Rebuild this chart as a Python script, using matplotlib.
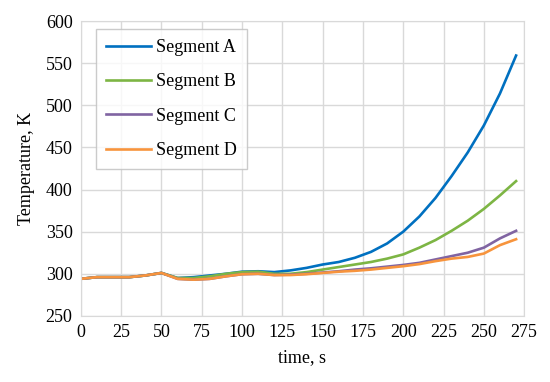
import numpy as np
import matplotlib
matplotlib.use('Agg')
from matplotlib import pyplot as plt

plt.rcParams['font.family'] = ['Liberation Serif', 'DejaVu Serif']

time = [0, 10, 20, 30, 40, 50, 60, 70, 80, 90, 100, 110, 120, 130, 140,
        150, 160, 170, 180, 190, 200, 210, 220, 230, 240, 250, 260, 270]

seg_a = [294, 296, 296, 296, 298, 301, 295, 296, 298, 300, 302.5, 303, 302, 304, 307,
         311, 314, 319, 326, 336, 350, 368, 390, 416, 444, 476, 514, 559]
seg_b = [294, 296, 296, 296, 298, 301, 295, 295, 297, 300, 302, 302.5, 300, 300, 302,
         305, 308, 311, 314, 318, 323, 331, 340, 351, 363, 377, 393, 410]
seg_c = [294, 296, 296, 296, 298, 301, 294, 293, 294, 297, 299.5, 300, 298.5, 299, 300,
         301.5, 303, 305, 306.5, 308.5, 310.5, 313, 317, 321, 325, 331, 342, 351]
seg_d = [294, 296, 296, 296, 298, 301, 294, 293, 294, 297, 299.5, 300, 298.5, 298.5, 299.5,
         301, 302.5, 303.5, 305, 307, 309, 311.5, 315, 318, 320, 324, 334, 341]

names = ['Segment A', 'Segment B', 'Segment C', 'Segment D']
colors = ['#0070C0', '#7DB544', '#8064A2', '#F7943D']

fig = plt.figure(figsize=(5.5, 3.82), dpi=100)
ax = fig.add_axes([0.147, 0.173, 0.806, 0.772])

for y, n, c in zip([seg_a, seg_b, seg_c, seg_d], names, colors):
    ax.plot(time, y, color=c, lw=1.9, label=n)

ax.set_xlim(0, 275)
ax.set_ylim(250, 600)
ax.set_xticks(np.arange(0, 276, 25))
ax.set_yticks(np.arange(250, 601, 50))
ax.grid(True, color='#d9d9d9', lw=1)
ax.set_axisbelow(True)
for s in ax.spines.values():
    s.set_color('#d9d9d9')
ax.tick_params(length=0, labelsize=13, pad=6)
ax.set_xlabel('time, s', fontsize=13, labelpad=6)
ax.set_ylabel('Temperature, K', fontsize=13, labelpad=8)

leg = ax.legend(loc='upper left', bbox_to_anchor=(0.034, 0.973), borderaxespad=0,
                fontsize=13, frameon=True, fancybox=False, edgecolor='#bfbfbf',
                labelspacing=0.96, handlelength=2.5, handletextpad=0.3,
                borderpad=0.55)
leg.get_frame().set_linewidth(1)

fig.savefig('out.png', dpi=100)
